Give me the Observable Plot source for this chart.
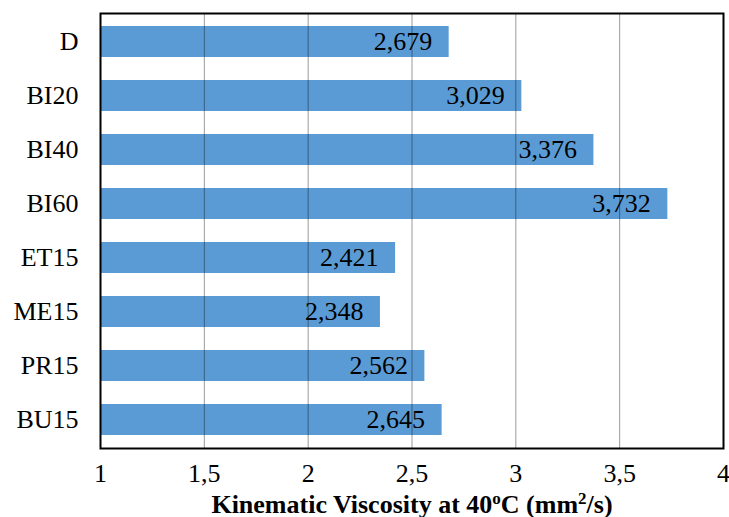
<!DOCTYPE html>
<html>
<head>
<meta charset="utf-8">
<script src="https://cdn.jsdelivr.net/npm/d3@7"></script>
<script src="https://cdn.jsdelivr.net/npm/@observablehq/plot@0.6"></script>
<style>
  html, body { margin: 0; padding: 0; background: #fff; }
</style>
</head>
<body>
<div id="chart"></div>
<script>
const categories = ["D", "BI20", "BI40", "BI60", "ET15", "ME15", "PR15", "BU15"];
const values = [2.679, 3.029, 3.376, 3.732, 2.421, 2.348, 2.562, 2.645];
const xTicks = [1, 1.5, 2, 2.5, 3, 3.5, 4];
const gridTicks = [1.5, 2, 2.5, 3, 3.5];

const data = categories.map((c, i) => ({ cat: c, value: values[i] }));
const comma = v => String(v).replace(".", ",");
const fmt3 = v => v.toFixed(3).replace(".", ",");
const font = "'Liberation Serif', 'Times New Roman', serif";

const chart = Plot.plot({
  width: 729,
  height: 517,
  marginLeft: 100,
  marginRight: 6,
  marginTop: 13,
  marginBottom: 69,
  style: { fontFamily: font, fontSize: "26px", color: "#000", background: "#fff" },
  x: { domain: [1, 4], ticks: xTicks, tickFormat: comma },
  y: { domain: categories, paddingInner: 0.43, paddingOuter: 0.215 },
  marks: [
    Plot.barX(data, { x1: 1, x2: "value", y: "cat", fill: "#5B9BD5" }),
    Plot.gridX(gridTicks, { stroke: "#000", strokeOpacity: 0.4, strokeWidth: 1 }),
    Plot.text(data, { x: "value", y: "cat", text: d => fmt3(d.value), textAnchor: "end", dx: -17, fontSize: 26, fill: "#000", fontFamily: font }),
    Plot.axisX({ ticks: xTicks, tickSize: 0, tickPadding: 15, tickFormat: comma, fontSize: 26, fontFamily: font,
      label: "Kinematic Viscosity at 40oC (mm2/s)", labelAnchor: "center", labelArrow: "none", labelOffset: 64 }),
    Plot.axisY({ tickSize: 0, tickPadding: 22, fontSize: 26, fontFamily: font, label: null }),
    Plot.frame({ stroke: "#000", strokeWidth: 2 })
  ]
});

// Rebuild the axis title with superscripts
d3.select(chart).selectAll("g[aria-label='x-axis label'] text").each(function () {
  const t = d3.select(this);
  t.text(null).attr("font-weight", "bold").attr("font-size", 26).attr("font-family", font);
  t.append("tspan").text("Kinematic Viscosity at 40");
  t.append("tspan").attr("baseline-shift", "super").attr("font-size", 17).text("o");
  t.append("tspan").text("C (mm");
  t.append("tspan").attr("baseline-shift", "super").attr("font-size", 17).text("2");
  t.append("tspan").text("/s)");
});

document.getElementById("chart").appendChild(chart);
</script>
</body>
</html>
